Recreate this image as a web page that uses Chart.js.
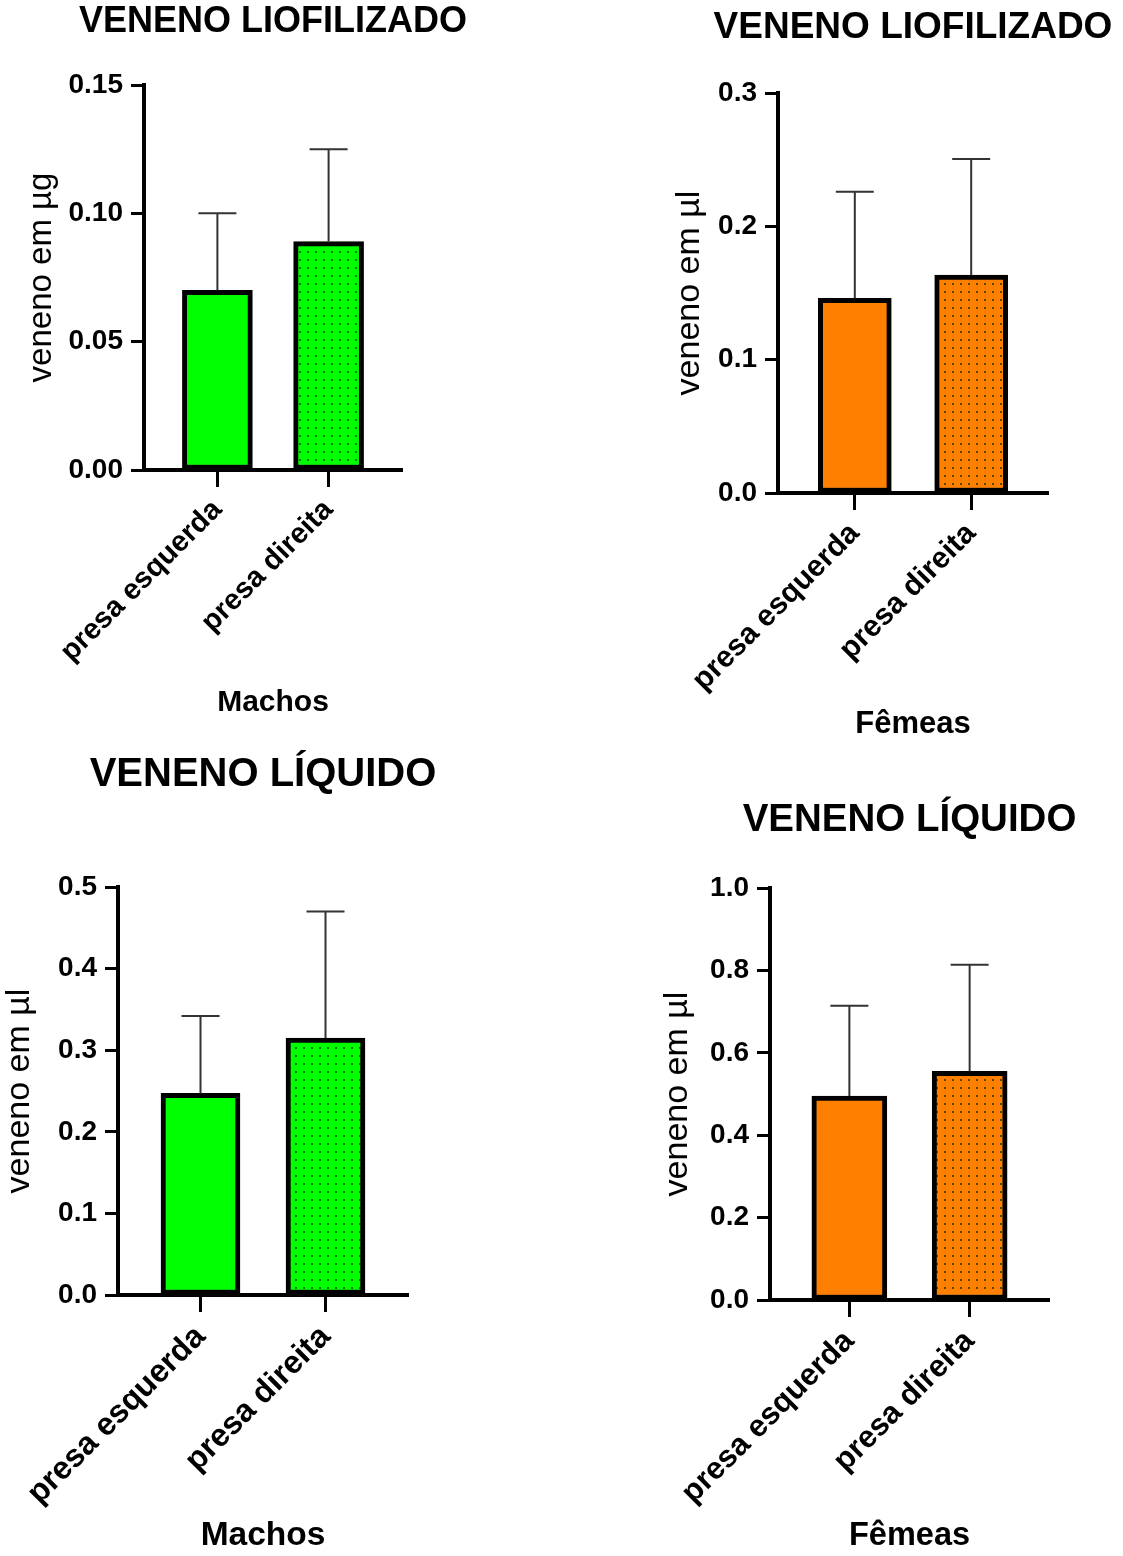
<!DOCTYPE html>
<html lang="pt">
<head>
<meta charset="utf-8">
<title>Veneno - presas</title>
<script src="https://cdn.jsdelivr.net/npm/chart.js@4.4.1/dist/chart.umd.min.js"></script>
<style>
  html, body { margin: 0; padding: 0; background: #fff; }
  body { position: relative; width: 1123px; height: 1556px; overflow: hidden; }
  .panel { position: absolute; }
</style>
</head>
<body>
<div class="panel" style="left:0px;top:0px;width:470px;height:723px"><canvas id="machosLiof"></canvas></div>
<div class="panel" style="left:645px;top:0px;width:478px;height:744px"><canvas id="femeasLiof"></canvas></div>
<div class="panel" style="left:-20px;top:740px;width:490px;height:816px"><canvas id="machosLiq"></canvas></div>
<div class="panel" style="left:645px;top:740px;width:478px;height:816px"><canvas id="femeasLiq"></canvas></div>

<script>
// categorias (presas)
const categories = ["presa esquerda", "presa direita"];

// médias e desvios (barra de erro só para cima)
const machosLiofMean = [0.070, 0.089];
const machosLiofSd = [0.030, 0.036];
const femeasLiofMean = [0.146, 0.1635];
const femeasLiofSd = [0.080, 0.087];
const machosLiqMean = [0.247, 0.315];
const machosLiqSd = [0.095, 0.155];
const femeasLiqMean = [0.495, 0.555];
const femeasLiqSd = [0.219, 0.259];

// rótulos do eixo y
const machosLiofTicks = ["0.00", "0.05", "0.10", "0.15"];
const femeasLiofTicks = ["0.0", "0.1", "0.2", "0.3"];
const machosLiqTicks = ["0.0", "0.1", "0.2", "0.3", "0.4", "0.5"];
const femeasLiqTicks = ["0.0", "0.2", "0.4", "0.6", "0.8", "1.0"];

const GREEN = "#00ff00";
const ORANGE = "#ff8000";
const FONT = '"Liberation Sans", Arial, Helvetica, sans-serif';

// padrão pontilhado da segunda barra
function dotPattern(ctx, color) {
  const c = document.createElement("canvas");
  c.width = 8;
  c.height = 8;
  const g = c.getContext("2d");
  g.fillStyle = color;
  g.fillRect(0, 0, 8, 8);
  g.fillStyle = "rgba(0, 40, 0, 0.65)";
  g.fillRect(3, 3, 2, 2);
  return ctx.createPattern(c, "repeat");
}

// barras de erro (média + DP)
const errorBars = {
  id: "errorBars",
  afterDatasetsDraw(chart) {
    const ctx = chart.ctx;
    const yScale = chart.scales.y;
    const ds = chart.data.datasets[0];
    chart.getDatasetMeta(0).data.forEach((bar, i) => {
      const top = yScale.getPixelForValue(ds.data[i].y + ds.sd[i]);
      ctx.save();
      ctx.strokeStyle = "#333";
      ctx.lineWidth = 2;
      ctx.beginPath();
      ctx.moveTo(bar.x, bar.y);
      ctx.lineTo(bar.x, top);
      ctx.moveTo(bar.x - 19, top);
      ctx.lineTo(bar.x + 19, top);
      ctx.stroke();
      ctx.restore();
    });
  },
};

// título centrado sobre a área do gráfico (sem compressão de largura)
const panelTitle = {
  id: "panelTitle",
  afterDraw(chart, args, opts) {
    const ctx = chart.ctx;
    const area = chart.chartArea;
    ctx.save();
    ctx.fillStyle = "#000";
    ctx.font = "bold " + opts.size + "px " + FONT;
    ctx.textAlign = "center";
    ctx.textBaseline = "middle";
    ctx.fillText(opts.text, (area.left + area.right) / 2, opts.y);
    ctx.restore();
  },
};

function drawPanel(id, p) {
  const ctx = document.getElementById(id).getContext("2d");
  const yTitleLh = p.yTitleSize * 1.2;
  const xTitleLh = p.xTitleSize * 1.2;
  const canvasH = ctx.canvas.parentNode.clientHeight;

  return new Chart(ctx, {
    type: "bar",
    data: {
      datasets: [
        {
          data: p.means.map((m, i) => ({ x: i + 1, y: m })),
          sd: p.sds,
          backgroundColor: [p.color, dotPattern(ctx, p.color)],
          borderColor: "#000",
          borderWidth: 5,
          borderSkipped: false,
          barThickness: p.barWidth,
        },
      ],
    },
    options: {
      responsive: true,
      maintainAspectRatio: false,
      animation: false,
      layout: { padding: { top: p.areaTop, left: 0, right: p.padRight, bottom: 0 } },
      plugins: {
        legend: { display: false },
        tooltip: { enabled: false },
        title: { display: false },
        panelTitle: { text: p.title, size: p.titleSize, y: p.titleY },
      },
      scales: {
        x: {
          type: "linear",
          offset: false,
          min: 0.34,
          max: 2.66,
          afterBuildTicks: (s) => {
            s.ticks = categories.map((c, i) => ({ value: i + 1 }));
          },
          afterFit: (s) => {
            s.height = canvasH - p.areaBottom;
          },
          ticks: {
            callback: (v, i) => categories[i],
            autoSkip: false,
            minRotation: 45,
            maxRotation: 45,
            padding: 6,
            color: "#000",
            font: { family: FONT, size: p.catSize, weight: "bold" },
          },
          grid: {
            offset: false,
            drawOnChartArea: false,
            tickLength: 17,
            tickWidth: 3,
            tickColor: "#000",
          },
          border: { width: 4, color: "#000" },
          title: {
            display: true,
            text: p.xTitle,
            color: "#000",
            font: { family: FONT, size: p.xTitleSize, weight: "bold" },
            padding: { top: 0, bottom: Math.max(0, canvasH - p.xTitleY - xTitleLh / 2) },
          },
        },
        y: {
          min: 0,
          max: parseFloat(p.ticks[p.ticks.length - 1]),
          afterBuildTicks: (s) => {
            s.ticks = p.ticks.map((t) => ({ value: parseFloat(t) }));
          },
          afterFit: (s) => {
            s.width = p.axisX;
          },
          ticks: {
            callback: (v, i) => p.ticks[i],
            padding: 8,
            color: "#000",
            font: { family: FONT, size: 28, weight: "bold" },
          },
          grid: {
            drawOnChartArea: false,
            tickLength: 13,
            tickWidth: 3,
            tickColor: "#000",
          },
          border: { width: 4, color: "#000" },
          title: {
            display: true,
            text: p.yTitle,
            color: "#000",
            font: { family: FONT, size: p.yTitleSize, weight: "normal" },
            padding: { top: Math.max(0, p.yTitleX - yTitleLh / 2), bottom: 0 },
          },
        },
      },
    },
    plugins: [errorBars, panelTitle],
  });
}

drawPanel("machosLiof", {
  title: "VENENO LIOFILIZADO", titleSize: 36, titleY: 22,
  xTitle: "Machos", xTitleSize: 30, xTitleY: 703, catSize: 29,
  yTitle: "veneno em µg", yTitleSize: 33, yTitleX: 42,
  means: machosLiofMean, sds: machosLiofSd, ticks: machosLiofTicks,
  color: GREEN, barWidth: 70,
  axisX: 144, areaTop: 85, areaBottom: 470, padRight: 68,
});

drawPanel("femeasLiof", {
  title: "VENENO LIOFILIZADO", titleSize: 37, titleY: 28,
  xTitle: "Fêmeas", xTitleSize: 31, xTitleY: 724, catSize: 30,
  yTitle: "veneno em µl", yTitleSize: 34, yTitleX: 45,
  means: femeasLiofMean, sds: femeasLiofSd, ticks: femeasLiofTicks,
  color: ORANGE, barWidth: 73,
  axisX: 133, areaTop: 93, areaBottom: 493, padRight: 75,
});

drawPanel("machosLiq", {
  title: "VENENO LÍQUIDO", titleSize: 40, titleY: 35,
  xTitle: "Machos", xTitleSize: 33.5, xTitleY: 797, catSize: 32,
  yTitle: "veneno em µl", yTitleSize: 34, yTitleX: 40,
  means: machosLiqMean, sds: machosLiqSd, ticks: machosLiqTicks,
  color: GREEN, barWidth: 79,
  axisX: 138, areaTop: 147, areaBottom: 555, padRight: 62,
});

drawPanel("femeasLiq", {
  title: "VENENO LÍQUIDO", titleSize: 38.5, titleY: 80,
  xTitle: "Fêmeas", xTitleSize: 32.5, xTitleY: 798, catSize: 31,
  yTitle: "veneno em µl", yTitleSize: 34, yTitleX: 33,
  means: femeasLiqMean, sds: femeasLiqSd, ticks: femeasLiqTicks,
  color: ORANGE, barWidth: 75,
  axisX: 125, areaTop: 148, areaBottom: 560, padRight: 74,
});
</script>
</body>
</html>
